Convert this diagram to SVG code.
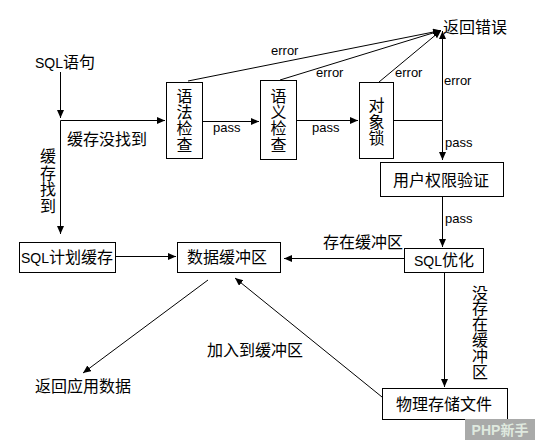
<svg xmlns="http://www.w3.org/2000/svg" width="535" height="440" viewBox="0 0 535 440">
<style>
text{font-family:"Liberation Sans","Noto Sans CJK SC",sans-serif;font-size:16px;fill:#000}
.lat{font-size:13px}
.sql{font-size:14px}
.box{fill:#fff;stroke:#000;stroke-width:1}
.c{fill:none;stroke:#000;stroke-width:1}
.m{text-anchor:middle}
</style>
<defs>
<marker id="ah" markerUnits="userSpaceOnUse" markerWidth="9" markerHeight="8" refX="8" refY="3.5" orient="auto">
<path d="M0,0 L8,3.5 L0,7 z" fill="#000"/>
</marker>
</defs>
<rect width="535" height="440" fill="#fff"/>
<g id="connectors">
<path class="c" d="M60.5,72 V118" marker-end="url(#ah)"/>
<path class="c" d="M60.5,120.5 H165" marker-end="url(#ah)"/>
<path class="c" d="M60.5,120.5 V234" marker-end="url(#ah)"/>
<path class="c" d="M203,121.5 H259" marker-end="url(#ah)"/>
<path class="c" d="M297,120.5 H358" marker-end="url(#ah)"/>
<path class="c" d="M393,120.5 H442.5"/>
<path class="c" d="M442.5,120.5 V31" marker-end="url(#ah)"/>
<path class="c" d="M442.5,120.5 V160" marker-end="url(#ah)"/>
<path class="c" d="M188,81 L441,30.5" marker-end="url(#ah)"/>
<path class="c" d="M280,80 L441,30.5" marker-end="url(#ah)"/>
<path class="c" d="M379,82 L441,30.5" marker-end="url(#ah)"/>
<path class="c" d="M442.5,196 V247" marker-end="url(#ah)"/>
<path class="c" d="M404,258.5 H284" marker-end="url(#ah)"/>
<path class="c" d="M115,256.5 H176" marker-end="url(#ah)"/>
<path class="c" d="M208,280 L83,373" marker-end="url(#ah)"/>
<path class="c" d="M382,397 L235,278" marker-end="url(#ah)"/>
<path class="c" d="M444.5,272 V387" marker-end="url(#ah)"/>
</g>
<g id="labels">
<text x="67" y="145">缓存没找到</text>
<text class="m" x="48"><tspan x="48" y="162">缓</tspan><tspan x="48" y="178.5">存</tspan><tspan x="48" y="195">找</tspan><tspan x="48" y="211.5">到</tspan></text>
<text class="lat" x="213" y="132">pass</text>
<text class="lat" x="312" y="132">pass</text>
<text class="lat" x="271" y="55">error</text>
<text class="lat" x="316" y="77">error</text>
<text class="lat" x="395" y="77">error</text>
<text class="lat" x="444" y="85">error</text>
<text class="lat" x="445" y="147">pass</text>
<text class="lat" x="445" y="223">pass</text>
<text x="323" y="248">存在缓冲区</text>
<text x="207" y="356">加入到缓冲区</text>
<text class="m" x="480"><tspan x="480" y="298.5">没</tspan><tspan x="480" y="314.3">存</tspan><tspan x="480" y="330.1">在</tspan><tspan x="480" y="345.9">缓</tspan><tspan x="480" y="361.7">冲</tspan><tspan x="480" y="377.5">区</tspan></text>
</g>
<g id="sql-statement"><text x="35" y="68"><tspan class="sql">SQL</tspan>语句</text></g>
<g id="return-error"><text x="443" y="33">返回错误</text></g>
<g id="syntax-check">
<rect class="box" x="166.5" y="82.5" width="36" height="76"/>
<text class="m"><tspan x="184.5" y="101.5">语</tspan><tspan x="184.5" y="118">法</tspan><tspan x="184.5" y="134.3">检</tspan><tspan x="184.5" y="150.6">查</tspan></text>
</g>
<g id="semantic-check">
<rect class="box" x="260.5" y="80.5" width="36" height="79"/>
<text class="m"><tspan x="278.5" y="101.5">语</tspan><tspan x="278.5" y="118">义</tspan><tspan x="278.5" y="134.3">检</tspan><tspan x="278.5" y="150.6">查</tspan></text>
</g>
<g id="object-lock">
<rect class="box" x="359.5" y="82.5" width="34" height="76"/>
<text class="m"><tspan x="376.5" y="111">对</tspan><tspan x="376.5" y="127.5">象</tspan><tspan x="376.5" y="144">锁</tspan></text>
</g>
<g id="permission">
<rect class="box" x="380.5" y="162.5" width="123" height="34"/>
<text class="m" x="441" y="185.5">用户权限验证</text>
</g>
<g id="sql-optimize">
<rect class="box" x="404.5" y="248.5" width="79" height="24"/>
<text class="m" x="444" y="266"><tspan class="sql">SQL</tspan>优化</text>
</g>
<g id="plan-cache">
<rect class="box" x="19.5" y="242.5" width="96" height="30"/>
<text class="m" x="67" y="263"><tspan class="sql">SQL</tspan>计划缓存</text>
</g>
<g id="data-buffer">
<rect class="box" x="177.5" y="242.5" width="103" height="30"/>
<text class="m" x="227" y="263">数据缓冲区</text>
</g>
<g id="return-data"><text x="35" y="392">返回应用数据</text></g>
<g id="physical-file">
<rect class="box" x="382.5" y="388.5" width="125" height="31"/>
<text class="m" x="444" y="409.5">物理存储文件</text>
</g>
<g id="watermark">
<rect x="465" y="419" width="70" height="21" fill="#a9aaa9"/>
<text class="m" x="500" y="435" style="font-size:14px;font-weight:bold;fill:#dfe9df">PHP新手</text>
</g>
</svg>
